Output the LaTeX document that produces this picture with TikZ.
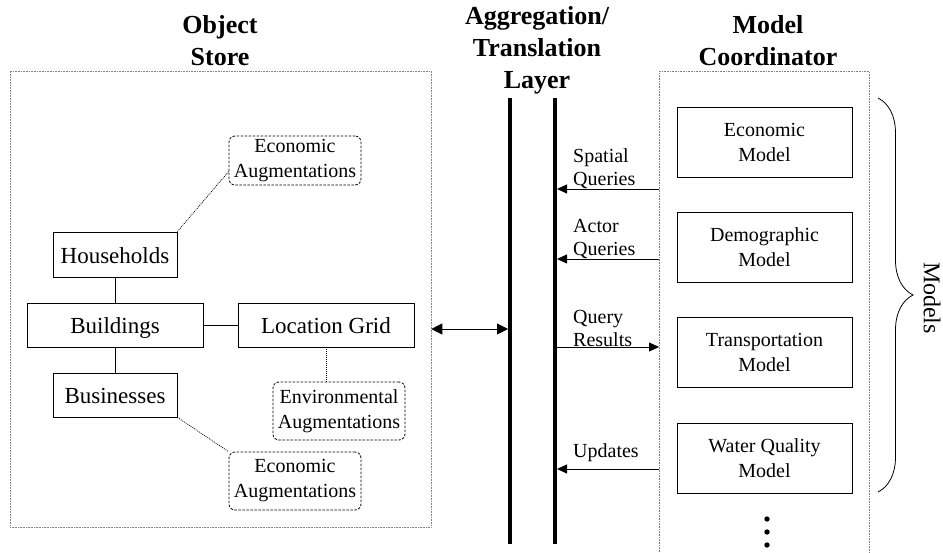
\documentclass[tikz,border=0pt]{standalone}
\usepackage{fontspec}
\setmainfont{Liberation Serif}
\usetikzlibrary{arrows.meta,decorations.pathreplacing}

\begin{document}
\begin{tikzpicture}[x=1pt, y=-1pt, inner sep=0pt,
   obj/.style={draw, line width=0.8pt, minimum width=124pt, minimum height=45pt, text height=17pt, text depth=0pt, font=\fontsize{23}{27}\selectfont},
   aug/.style={draw, line width=0.8pt, dash pattern=on 2.5pt off 1.5pt, rounded corners=6pt, minimum width=132pt, minimum height=58pt, align=center, font=\fontsize{20}{25}\selectfont},
   model/.style={draw, line width=0.8pt, minimum width=175pt, minimum height=70pt, align=center, font=\fontsize{20}{25}\selectfont},
   region/.style={draw=gray, line width=0.6pt, densely dotted},
   title/.style={anchor=north, align=center, font=\fontsize{26}{32}\selectfont\bfseries},
   msg/.style={anchor=south west, align=left, font=\fontsize{20}{23}\selectfont},
   link/.style={line width=0.7pt, dash pattern=on 1pt off 1pt},
   bar/.style={line width=4pt},
   tip/.style={-{Triangle[length=10pt,width=9pt]}, line width=0.8pt}
   ]

   \useasboundingbox (0,0) rectangle (943,552);

   % regions and titles
   \node[region, minimum width=421pt, minimum height=456pt] (store) at (220.5,299) {};
   \node[region, minimum width=210pt, minimum height=500pt, anchor=north west] (coord) at (659,71) {};
   \node[title] (storet) at (220,15.5) {Object\\Store};
   \node[title] (aggt) at (537,6) {Aggregation/\\Translation\\Layer};
   \node[title] (coordt) at (768,15.5) {Model\\Coordinator};

   % object store
   \node[obj] (hh) at (115,254.5) {Households};
   \node[obj, minimum width=176pt, minimum height=44pt] (bld) at (115,325) {Buildings};
   \node[obj, minimum width=176pt, minimum height=44pt] (loc) at (326,325) {Location Grid};
   \node[obj, minimum height=44pt] (biz) at (115,395) {Businesses};
   \node[aug, minimum height=49pt] (ecoA) at (295,160.5) {Economic\\Augmentations};
   \node[aug] (envA) at (339,411) {Environmental\\Augmentations};
   \node[aug] (ecoB) at (295,481) {Economic\\Augmentations};

   \draw[line width=0.8pt] (hh) -- (bld);
   \draw[line width=0.8pt] (bld) -- (loc);
   \draw[line width=0.8pt] (bld) -- (biz);
   \draw[link] (hh.north east) -- ([yshift=-11pt]ecoA.west);
   \draw[link] (loc.south) -- (loc.south |- envA.north);
   \draw[link] (biz.south east) -- (ecoB.north west);

   % aggregation layer
   \coordinate (aggL top) at (510,98);
   \coordinate (aggL bot) at (510,544);
   \coordinate (aggR top) at (555,98);
   \coordinate (aggR bot) at (555,544);
   \draw[bar] (aggL top) -- (aggL bot);
   \draw[bar] (aggR top) -- (aggR bot);

   \coordinate (storeport) at (508,329);
   \draw[{Triangle[length=11pt,width=11pt]}-{Triangle[length=11pt,width=11pt]}, line width=0.8pt] (store.east |- storeport) -- (storeport);

   % models
   \node[model] (econ) at (764.5,142) {Economic\\Model};
   \node[model] (demo) at (764.5,247) {Demographic\\Model};
   \node[model] (trans) at (764.5,352) {Transportation\\Model};
   \node[model] (water) at (764.5,458) {Water Quality\\Model};
   \foreach \y in {519,532,545}
      \fill (767,\y) circle (2.7pt);

   \coordinate (spq) at (557,189);
   \coordinate (acq) at (557,259);
   \coordinate (qres) at (557,347);
   \coordinate (upd) at (557,469);
   \draw[tip] (coord.west |- spq) -- (spq);
   \draw[tip] (coord.west |- acq) -- (acq);
   \draw[tip] (qres) -- (coord.west |- qres);
   \draw[tip] (coord.west |- upd) -- (upd);
   \node[msg] (spql) at ([xshift=16pt]spq) {Spatial\\Queries};
   \node[msg] (acql) at ([xshift=16pt]acq) {Actor\\Queries};
   \node[msg] (qresl) at ([xshift=16pt]qres) {Query\\Results};
   \node[msg] (updl) at ([xshift=16pt,yshift=7pt]upd) {Updates};

   \draw[decorate, decoration={brace, amplitude=35pt}, line width=0.8pt] (878,98) -- (878,492);
   \node[rotate=-90, font=\fontsize{24}{28}\selectfont] (modl) at (932,298) {Models};

\end{tikzpicture}
\end{document}
